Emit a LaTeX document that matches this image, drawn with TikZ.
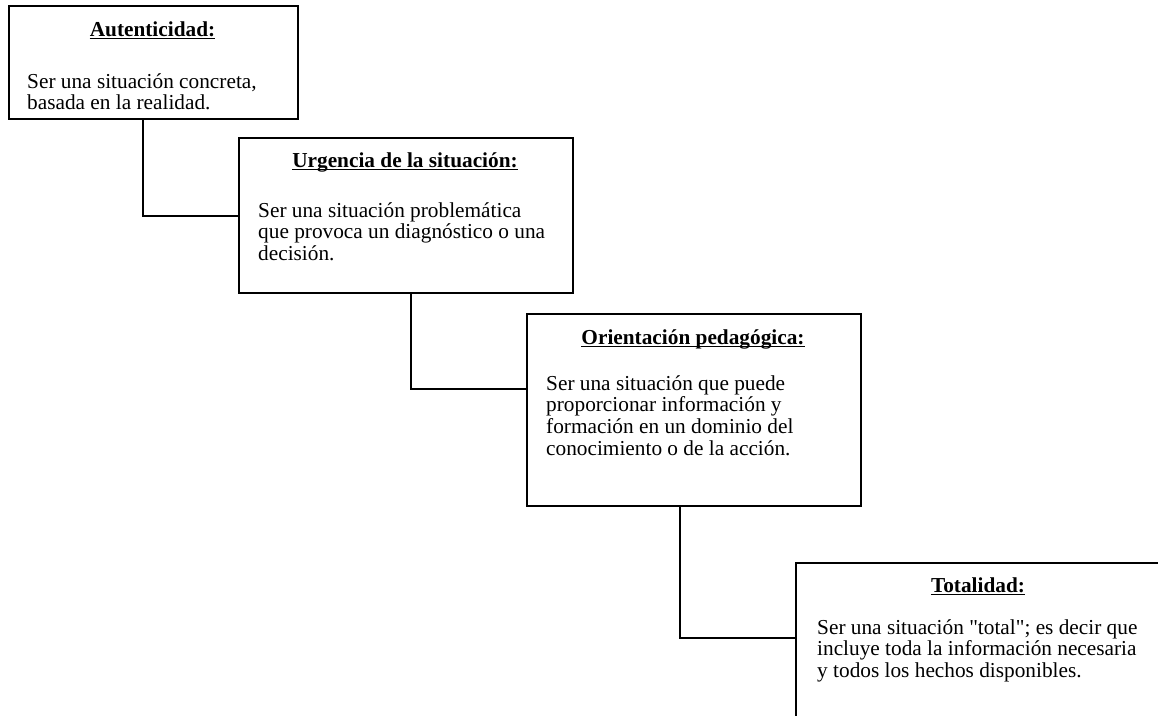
\documentclass[tikz,border=0pt]{standalone}
\usepackage{fontspec}
\setmainfont{Liberation Serif}
\tikzset{
  x=1pt, y=-1pt,
  boxnode/.style={draw=black, line width=1.8pt, fill=white, rectangle, inner sep=0pt, anchor=north west},
  titlenode/.style={inner sep=0pt, anchor=base, font=\bfseries},
  bodynode/.style={inner sep=0pt, anchor=base west},
  ul/.style={line width=1.3pt},
  conn/.style={line width=1.4pt},
}
\begin{document}
\begin{tikzpicture}
\useasboundingbox[fill=white] (0,0) rectangle (1158,715);
\clip (0,0) rectangle (1158,715);
\fontsize{21.3}{21.8}\selectfont
% boxes
\node[boxnode, minimum width=289pt, minimum height=113pt] (b1) at (8,5) {};
\node[boxnode, minimum width=334pt, minimum height=155pt] (b2) at (238,137) {};
\node[boxnode, minimum width=334pt, minimum height=192pt] (b3) at (526,313) {};
\node[boxnode, minimum width=366pt, minimum height=170pt] (b4) at (795,562) {};
% connectors
\coordinate (c1) at (143,216);
\coordinate (c2) at (411,389);
\coordinate (c3) at (680,638);
\draw[conn] (b1.south -| c1) -- (c1) -- (c1 -| b2.west);
\draw[conn] (b2.south -| c2) -- (c2) -- (c2 -| b3.west);
\draw[conn] (b3.south -| c3) -- (c3) -- (c3 -| b4.west);
% titles
\node[titlenode] (t1) at (152.5,36) {Autenticidad:};
\node[titlenode] (t2) at (405,167) {Urgencia de la situación:};
\node[titlenode] (t3) at (693,344) {Orientación pedagógica:};
\node[titlenode] (t4) at (978,592) {Totalidad:};
\foreach \t in {t1,t2,t3,t4}{
  \draw[ul] ([yshift=-2.8pt]\t.base west) -- ([yshift=-2.8pt]\t.base east);
}
% bodies
\node[bodynode] (d1) at (27,88) {\vtop{\hbox{Ser una situación concreta,}\hbox{basada en la realidad.}}};
\node[bodynode] (d2) at (258,217) {\vtop{\hbox{Ser una situación problemática}\hbox{que provoca un diagnóstico o una}\hbox{decisión.}}};
\node[bodynode] (d3) at (546,390) {\vtop{\hbox{Ser una situación que puede}\hbox{proporcionar información y}\hbox{formación en un dominio del}\hbox{conocimiento o de la acción.}}};
\node[bodynode] (d4) at (817,634) {\vtop{\hbox{Ser una situación \textquotedbl total\textquotedbl; es decir que}\hbox{incluye toda la información necesaria}\hbox{y todos los hechos disponibles.}}};
\end{tikzpicture}
\end{document}
